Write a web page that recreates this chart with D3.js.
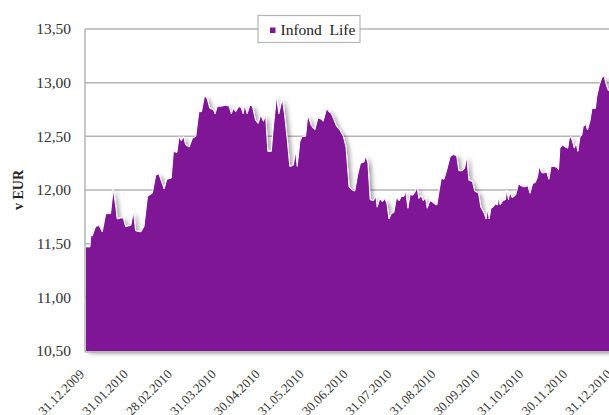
<!DOCTYPE html>
<html>
<head>
<meta charset="utf-8">
<script src="https://cdn.jsdelivr.net/npm/d3@7"></script>
<style>
  body { margin: 0; background: #fff; overflow: hidden; }
  svg { display: block; }
</style>
</head>
<body>
<div id="chart-area"></div>
<script>
// x position in months from 31.12.2009 (axis is evenly spaced by month)
var months = [0.00,0.09,0.11,0.14,0.22,0.30,0.37,0.45,0.56,0.62,0.68,0.71,0.79,0.85,0.90,
  1.02,1.08,1.13,1.25,1.32,1.40,1.51,1.59,1.66,1.71,1.78,1.84,1.94,1.99,
  2.07,2.12,2.17,2.22,2.27,2.35,2.42,2.50,2.57,2.63,2.70,2.76,2.82,2.90,2.94,2.99,
  3.07,3.18,3.26,3.31,3.35,3.41,3.44,3.48,3.54,3.58,3.61,3.67,3.73,3.79,3.86,3.92,3.98,
  4.04,4.09,4.14,4.22,4.26,4.34,4.39,4.47,4.52,4.58,4.64,4.72,4.77,4.81,4.87,4.92,
  5.00,5.05,5.13,5.21,5.28,5.36,5.40,5.48,5.53,5.59,5.63,5.71,5.78,5.86,5.92,5.99,
  6.06,6.12,6.19,6.25,6.33,6.37,6.42,6.47,6.54,6.60,6.63,6.69,6.75,6.80,6.85,6.90,6.95,
  7.01,7.07,7.13,7.18,7.24,7.28,7.33,7.38,7.43,7.48,7.54,7.58,7.63,7.68,7.73,7.77,7.83,7.88,7.94,7.99,
  8.04,8.09,8.15,8.21,8.29,8.36,8.44,8.49,8.57,8.62,8.67,8.72,8.80,8.85,8.94,8.99,
  9.07,9.11,9.15,9.18,9.22,9.27,9.32,9.37,9.40,9.43,9.49,9.55,9.58,9.62,9.65,9.70,9.75,9.79,9.85,9.90,9.98,
  10.06,10.11,10.17,10.23,10.28,10.32,10.38,10.44,10.49,10.54,10.59,10.66,10.72,10.76,10.79,10.85,10.91,10.97,
  11.00,11.04,11.08,11.12,11.16,11.20,11.25,11.29,11.32,11.38,11.42,11.48,11.52,11.60,11.63,11.69,11.75,11.80,11.84,11.89,12.00]

// Infond Life unit value, EUR
var nav = [11.47,11.47,11.58,11.57,11.66,11.67,11.61,11.78,11.78,12.01,11.84,11.73,11.74,11.74,11.66,
  11.67,11.80,11.62,11.61,11.66,11.94,11.97,12.14,12.15,12.09,12.01,12.10,12.11,12.36,
  12.35,12.50,12.46,12.50,12.42,12.40,12.48,12.50,12.73,12.73,12.88,12.85,12.76,12.75,12.71,12.78,
  12.78,12.79,12.78,12.71,12.76,12.73,12.75,12.78,12.76,12.71,12.79,12.71,12.79,12.78,12.65,12.62,12.70,
  12.64,12.70,12.36,12.36,12.56,12.88,12.71,12.85,12.71,12.48,12.22,12.23,12.36,12.22,12.45,12.50,
  12.50,12.70,12.60,12.56,12.67,12.66,12.64,12.76,12.73,12.71,12.67,12.59,12.56,12.50,12.40,12.03,
  12.00,11.99,12.15,12.25,12.26,12.32,12.25,11.91,11.90,11.94,11.84,11.92,11.89,11.92,11.88,11.73,11.78,
  11.79,11.93,11.90,11.94,11.94,11.99,11.83,11.96,11.95,11.97,12.03,11.92,11.95,11.90,11.93,11.83,11.90,11.89,11.87,11.86,
  11.99,12.11,12.10,12.18,12.31,12.33,12.32,12.18,12.18,12.20,12.31,12.09,12.08,11.99,11.97,11.84,
  11.78,11.73,11.83,11.73,11.83,11.84,11.87,11.86,11.94,11.86,11.90,11.91,12.00,11.91,11.98,11.93,11.94,11.96,12.06,12.04,12.03,
  12.04,11.97,12.06,12.07,12.12,12.22,12.16,12.16,12.17,12.10,12.22,12.22,12.21,12.19,12.39,12.42,12.40,12.39,
  12.47,12.50,12.45,12.39,12.44,12.36,12.50,12.51,12.59,12.61,12.56,12.65,12.76,12.76,12.87,12.98,13.05,13.06,12.99,12.93,12.90]

var tickLabels = ["31.12.2009","31.01.2010","28.02.2010","31.03.2010","30.04.2010","31.05.2010",
  "30.06.2010","31.07.2010","31.08.2010","30.09.2010","31.10.2010","30.11.2010","31.12.2010"]
var yTicks = [10.5, 11, 11.5, 12, 12.5, 13, 13.5]
var seriesName = "Infond\u00a0 Life"

var canvasWidth = 609
var canvasHeight = 415
var plot = {left: 86, right: 613, top: 29, bottom: 351}
var purple = "#7e1595"
var gridColor = "#b4b4b4"
var serif = "'Liberation Serif', 'DejaVu Serif', serif"

var svg = d3.select("#chart-area")
  .append("svg")
  .attr("width", canvasWidth)
  .attr("height", canvasHeight)

var x = d3.scaleLinear().domain([0, 12]).range([plot.left, plot.right])
var y = d3.scaleLinear().domain([10.5, 13.5]).range([plot.bottom, plot.top])
var fmt = function(d) { return d3.format(".2f")(d).replace(".", ",") }

var defs = svg.append("defs")
var shadow = defs.append("filter")
  .attr("id", "shadow")
  .attr("x", "-5%").attr("y", "-10%")
  .attr("width", "115%").attr("height", "130%")
shadow.append("feDropShadow")
  .attr("dx", 3).attr("dy", 2.5)
  .attr("stdDeviation", 2)
  .attr("flood-color", "#000")
  .attr("flood-opacity", 0.35)

// gridlines
svg.append("g")
  .selectAll("line")
  .data(yTicks.slice(1))
  .enter().append("line")
    .attr("x1", plot.left - 1)
    .attr("x2", plot.right)
    .attr("y1", function(d) { return y(d) })
    .attr("y2", function(d) { return y(d) })
    .attr("stroke", gridColor)
    .attr("stroke-width", 1.5)

var points = months.map(function(m, i) { return [m, nav[i]] })

var area = d3.area()
  .x(function(d) { return x(d[0]) })
  .y0(y(10.5))
  .y1(function(d) { return y(d[1]) })

var line = d3.line()
  .x(function(d) { return x(d[0]) })
  .y(function(d) { return y(d[1]) })

var series = svg.append("g").attr("filter", "url(#shadow)")
series.append("path")
  .datum(points)
  .attr("d", area)
  .attr("fill", purple)
series.append("path")
  .datum(points)
  .attr("d", line)
  .attr("fill", "none")
  .attr("stroke", "#fff")
  .attr("stroke-width", 1)

// axis lines
svg.append("line")
  .attr("x1", plot.left - 1).attr("x2", plot.left - 1)
  .attr("y1", plot.top).attr("y2", plot.bottom + 1)
  .attr("stroke", gridColor).attr("stroke-width", 1.5)
svg.append("line")
  .attr("x1", plot.left - 1).attr("x2", plot.right)
  .attr("y1", plot.bottom + 1).attr("y2", plot.bottom + 1)
  .attr("stroke", gridColor).attr("stroke-width", 1.5)

// y labels
svg.append("g")
  .selectAll("text")
  .data(yTicks)
  .enter().append("text")
    .attr("x", 71)
    .attr("y", function(d) { return y(d) })
    .attr("dy", "0.35em")
    .attr("text-anchor", "end")
    .attr("font-family", serif)
    .attr("font-size", "15.5px")
    .attr("fill", "#333")
    .text(fmt)

svg.append("text")
  .attr("transform", "translate(23,190) rotate(-90)")
  .attr("text-anchor", "middle")
  .attr("font-family", serif)
  .attr("font-size", "14px")
  .attr("font-weight", "bold")
  .attr("fill", "#222")
  .text("v EUR")

// x labels
svg.append("g")
  .selectAll("text")
  .data(tickLabels)
  .enter().append("text")
    .attr("transform", function(d, i) { return "translate(" + (x(i) - 1) + "," + 375 + ") rotate(-45)" })
    .attr("text-anchor", "end")
    .attr("font-family", serif)
    .attr("font-size", "13px")
    .attr("fill", "#333")
    .text(function(d) { return d })

// legend
var legend = svg.append("g")
legend.append("rect")
  .attr("x", 258).attr("y", 15.5)
  .attr("width", 102).attr("height", 27)
  .attr("fill", "#fff")
  .attr("stroke", gridColor)
  .attr("stroke-width", 1.2)
legend.append("rect")
  .attr("x", 270).attr("y", 27.5)
  .attr("width", 5.5).attr("height", 5.5)
  .attr("fill", purple)
legend.append("text")
  .attr("x", 280.5).attr("y", 34.5)
  .attr("font-family", serif)
  .attr("font-size", "15.5px")
  .attr("fill", "#222")
  .text(seriesName)
</script>
</body>
</html>
